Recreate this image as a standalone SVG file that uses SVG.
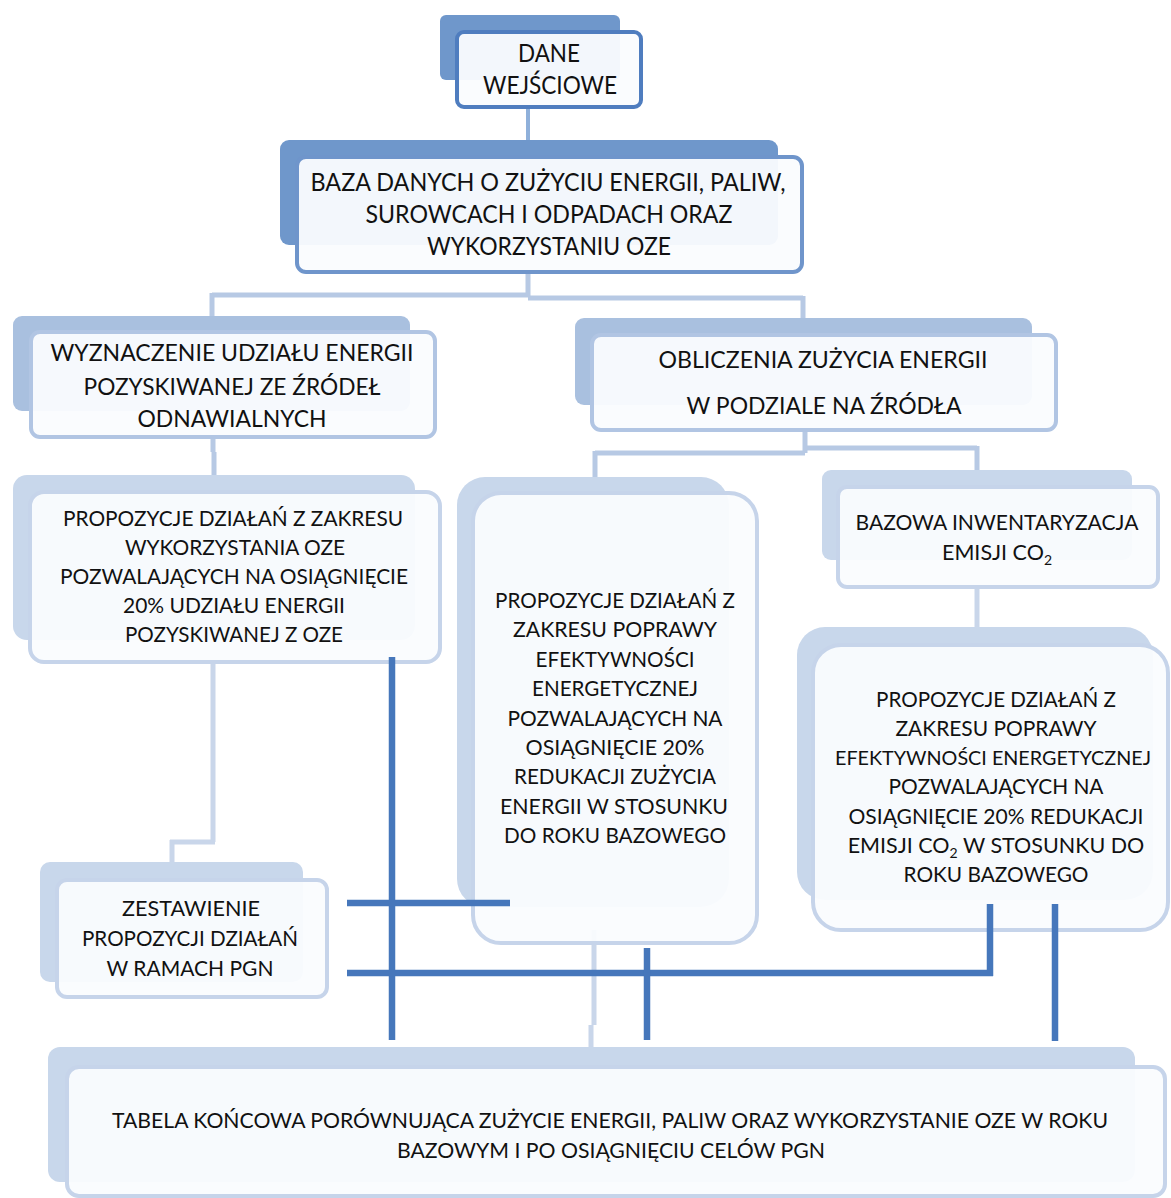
<svg xmlns="http://www.w3.org/2000/svg" width="1171" height="1198" viewBox="0 0 1171 1198">
<defs>
<style>
.bk1{fill:#6f97cb}
.bk2{fill:#a9c0df}
.bk3{fill:#c8d7eb}
.fr{fill:#fafcfe;fill-opacity:.95;stroke-width:4}
.s1{stroke:#4f7dbf}
.s1b{stroke:#6f95cb}
.s2{stroke:#b1c5e3}
.s3{stroke:#c6d4ea}
.lc{fill:none;stroke:#b7c9e4;stroke-width:5}
.lc2{fill:none;stroke:#c9d6ea;stroke-width:5}
.dc{fill:none;stroke:#4677bb;stroke-width:6.5}
text{font-family:Lato,"Open Sans","Liberation Sans",sans-serif;fill:#111111;text-anchor:middle}
.t1{font-size:25px}
.t2{font-size:24px}
.t3{font-size:21.5px}
.t4{font-size:20px}
.sub{font-size:14px}
</style>
</defs>
<rect width="1171" height="1198" fill="#ffffff"/>
<g id="connectors-light">
<path class="lc" d="M528,105 V150" style="stroke:#8fb0da;stroke-width:4"/>
<path class="lc" d="M528,272 V296 M212,295 H528 M528,298 H803 M212,293 V318 M803,296 V322"/>
<path class="lc" d="M213,437 V452 M214,452 V477"/>
<path class="lc" d="M805,430 V453 M595,453 H805 M595,451 V478 M805,448 H977 M977,446 V470"/>
<path class="lc2" d="M213,660 V842 M215,842 H170 M172,840 V864"/>
<path class="lc2" d="M977,585 V630"/>
<path class="lc2" d="M594,930 V1025 M591,1025 V1050"/>
</g>
<g id="node-dane">
<rect class="bk1" x="440" y="15" width="180" height="65" rx="6"/>
<rect class="fr s1" x="457" y="32" width="184" height="75" rx="7"/>
<text class="t1" x="549" y="62" textLength="62" lengthAdjust="spacingAndGlyphs">DANE</text>
<text class="t1" x="550" y="94" textLength="134" lengthAdjust="spacingAndGlyphs">WEJŚCIOWE</text>
</g>
<g id="node-baza">
<rect class="bk1" x="280" y="140" width="498" height="105" rx="9"/>
<rect class="fr s1b" x="297" y="157" width="505" height="115" rx="9"/>
<text class="t1" x="548" y="191" textLength="475" lengthAdjust="spacingAndGlyphs">BAZA DANYCH O ZUŻYCIU ENERGII, PALIW,</text>
<text class="t1" x="549" y="223" textLength="367" lengthAdjust="spacingAndGlyphs">SUROWCACH I ODPADACH  ORAZ</text>
<text class="t1" x="549" y="255" textLength="244" lengthAdjust="spacingAndGlyphs">WYKORZYSTANIU OZE</text>
</g>
<g id="node-wyznaczenie">
<rect class="bk2" x="13" y="316" width="397" height="95" rx="9"/>
<rect class="fr s2" x="31" y="332" width="404" height="105" rx="9"/>
<text class="t2" x="232" y="361" textLength="363" lengthAdjust="spacingAndGlyphs">WYZNACZENIE UDZIAŁU ENERGII</text>
<text class="t2" x="232" y="395" textLength="297" lengthAdjust="spacingAndGlyphs">POZYSKIWANEJ ZE ŹRÓDEŁ</text>
<text class="t2" x="232" y="427" textLength="189" lengthAdjust="spacingAndGlyphs">ODNAWIALNYCH</text>
</g>
<g id="node-obliczenia">
<rect class="bk2" x="575" y="318" width="457" height="87" rx="9"/>
<rect class="fr s2" x="592" y="335" width="464" height="95" rx="9"/>
<text class="t2" x="823" y="368" textLength="329" lengthAdjust="spacingAndGlyphs">OBLICZENIA ZUŻYCIA ENERGII</text>
<text class="t2" x="824" y="414" textLength="275" lengthAdjust="spacingAndGlyphs">W PODZIALE NA ŹRÓDŁA</text>
</g>
<g id="node-oze">
<rect class="bk3" x="13" y="475" width="402" height="165" rx="14"/>
<rect class="fr s3" x="30" y="492" width="410" height="170" rx="14"/>
<text class="t3" x="233" y="526" textLength="340" lengthAdjust="spacingAndGlyphs">PROPOZYCJE DZIAŁAŃ Z ZAKRESU</text>
<text class="t3" x="235" y="555" textLength="220" lengthAdjust="spacingAndGlyphs">WYKORZYSTANIA OZE</text>
<text class="t3" x="234" y="584" textLength="348" lengthAdjust="spacingAndGlyphs">POZWALAJĄCYCH NA OSIĄGNIĘCIE</text>
<text class="t3" x="234" y="613" textLength="222" lengthAdjust="spacingAndGlyphs">20% UDZIAŁU ENERGII</text>
<text class="t3" x="234" y="642" textLength="218" lengthAdjust="spacingAndGlyphs">POZYSKIWANEJ Z OZE</text>
</g>
<g id="node-efektywnosc">
<rect class="bk3" x="457" y="477" width="272" height="430" rx="28"/>
<rect class="fr s3" x="473" y="493" width="284" height="450" rx="28"/>
<text class="t3" x="615" y="608" textLength="240" lengthAdjust="spacingAndGlyphs">PROPOZYCJE DZIAŁAŃ Z</text>
<text class="t3" x="615" y="637" textLength="204" lengthAdjust="spacingAndGlyphs">ZAKRESU POPRAWY</text>
<text class="t3" x="615" y="667" textLength="159" lengthAdjust="spacingAndGlyphs">EFEKTYWNOŚCI</text>
<text class="t3" x="615" y="696" textLength="166" lengthAdjust="spacingAndGlyphs">ENERGETYCZNEJ</text>
<text class="t3" x="615" y="726" textLength="215" lengthAdjust="spacingAndGlyphs">POZWALAJĄCYCH NA</text>
<text class="t3" x="615" y="755" textLength="179" lengthAdjust="spacingAndGlyphs">OSIĄGNIĘCIE 20%</text>
<text class="t3" x="615" y="784" textLength="202" lengthAdjust="spacingAndGlyphs">REDUKACJI ZUŻYCIA</text>
<text class="t3" x="614" y="814" textLength="228" lengthAdjust="spacingAndGlyphs">ENERGII W STOSUNKU</text>
<text class="t3" x="615" y="843" textLength="222" lengthAdjust="spacingAndGlyphs">DO ROKU BAZOWEGO</text>
</g>
<g id="node-bazowa">
<rect class="bk3" x="822" y="470" width="310" height="90" rx="9"/>
<rect class="fr s3" x="838" y="487" width="320" height="100" rx="9"/>
<text class="t3" x="997" y="530" textLength="283" lengthAdjust="spacingAndGlyphs">BAZOWA INWENTARYZACJA</text>
<text class="t3" x="997" y="560">EMISJI CO<tspan class="sub" dy="5">2</tspan></text>
</g>
<g id="node-co2">
<rect class="bk3" x="797" y="627" width="356" height="273" rx="28"/>
<rect class="fr s3" x="813" y="645" width="355" height="285" rx="28"/>
<text class="t3" x="996" y="707" textLength="240" lengthAdjust="spacingAndGlyphs">PROPOZYCJE DZIAŁAŃ Z</text>
<text class="t3" x="996" y="736" textLength="201" lengthAdjust="spacingAndGlyphs">ZAKRESU POPRAWY</text>
<text class="t4" x="993" y="765" textLength="316" lengthAdjust="spacingAndGlyphs">EFEKTYWNOŚCI ENERGETYCZNEJ</text>
<text class="t3" x="996" y="794" textLength="215" lengthAdjust="spacingAndGlyphs">POZWALAJĄCYCH NA</text>
<text class="t3" x="996" y="824" textLength="295" lengthAdjust="spacingAndGlyphs">OSIĄGNIĘCIE 20% REDUKACJI</text>
<text class="t3" x="996" y="853">EMISJI CO<tspan class="sub" dy="5">2</tspan><tspan dy="-5"> W STOSUNKU DO</tspan></text>
<text class="t3" x="996" y="882" textLength="185" lengthAdjust="spacingAndGlyphs">ROKU BAZOWEGO</text>
</g>
<g id="node-zestawienie">
<rect class="bk3" x="40" y="862" width="263" height="120" rx="10"/>
<rect class="fr s3" x="57" y="880" width="270" height="117" rx="10"/>
<text class="t3" x="191" y="916" textLength="138" lengthAdjust="spacingAndGlyphs">ZESTAWIENIE</text>
<text class="t3" x="190" y="946" textLength="216" lengthAdjust="spacingAndGlyphs">PROPOZYCJI DZIAŁAŃ</text>
<text class="t3" x="190" y="976" textLength="167" lengthAdjust="spacingAndGlyphs">W RAMACH PGN</text>
</g>
<g id="node-tabela">
<rect class="bk3" x="48" y="1047" width="1087" height="135" rx="12"/>
<rect class="fr s3" x="67" y="1067" width="1098" height="129" rx="12"/>
<text class="t3" x="610" y="1128" textLength="996" lengthAdjust="spacingAndGlyphs">TABELA KOŃCOWA PORÓWNUJĄCA ZUŻYCIE ENERGII, PALIW ORAZ WYKORZYSTANIE OZE W ROKU</text>
<text class="t3" x="611" y="1158" textLength="428" lengthAdjust="spacingAndGlyphs">BAZOWYM I PO OSIĄGNIĘCIU CELÓW PGN</text>
</g>
<g id="connectors-dark">
<path class="dc" d="M392,657 V1040"/>
<path class="dc" d="M347,903 H510"/>
<path class="dc" d="M347,973 H993 M990,904 V976"/>
<path class="dc" d="M647,948 V1040"/>
<path class="dc" d="M1055,904 V1041"/>
</g>
</svg>
